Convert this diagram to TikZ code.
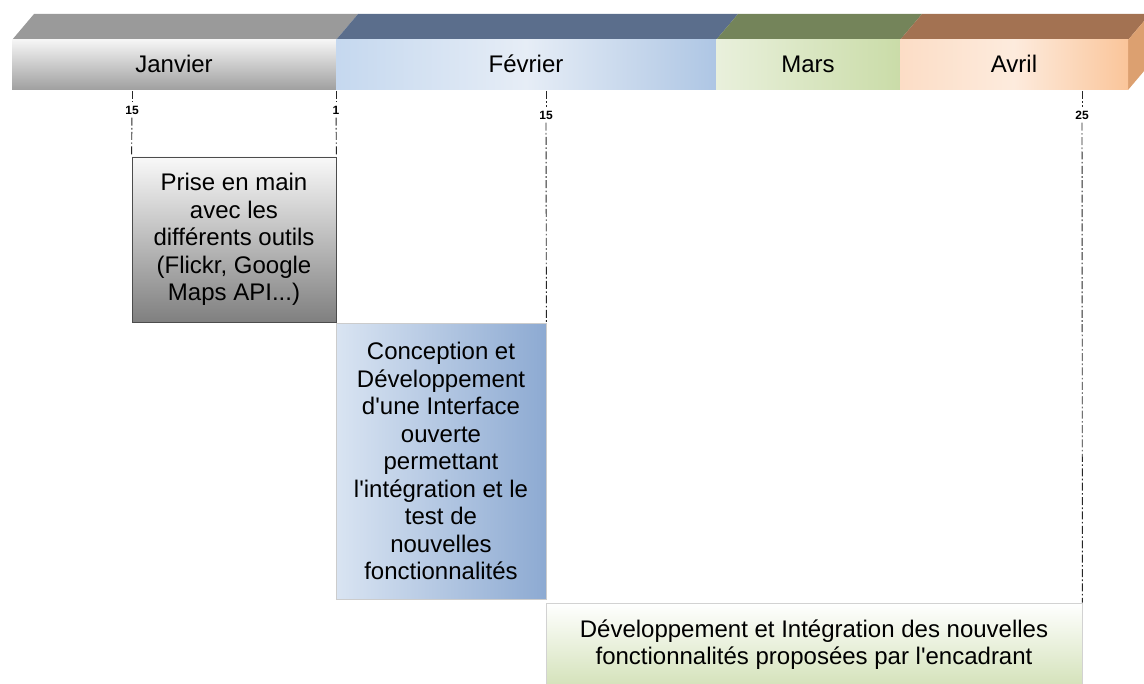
\documentclass[tikz,border=0pt]{standalone}
\usepackage{fontspec}
\setmainfont{Liberation Sans}
\usepackage{xcolor}
\usepackage{tikz}

\definecolor{janTop}{HTML}{9A9A9A}
\definecolor{fevTop}{HTML}{5B6E8C}
\definecolor{marTop}{HTML}{74845A}
\definecolor{avrTop}{HTML}{A37252}
\definecolor{avrSide}{HTML}{DCA070}
\definecolor{fevA}{HTML}{C5D8EF}
\definecolor{fevB}{HTML}{E6EDF6}
\definecolor{fevC}{HTML}{AEC6E4}
\definecolor{marA}{HTML}{E9F0DC}
\definecolor{marB}{HTML}{CADCA8}
\definecolor{avrA}{HTML}{FCDDC6}
\definecolor{avrB}{HTML}{FDEBDD}
\definecolor{avrC}{HTML}{FAC59A}
\definecolor{taskBlueA}{HTML}{D9E4F2}
\definecolor{taskBlue}{HTML}{8DAAD2}
\definecolor{taskGreen}{HTML}{D4E2BA}

\begin{document}
\begin{tikzpicture}[x=0.5pt, y=-0.5pt,
        month/.style={inner sep=0pt, font=\fontsize{12}{14}\selectfont},
        day/.style={inner sep=1.5pt, font=\fontsize{6}{7}\selectfont\bfseries},
        task/.style={line width=0.4pt, align=center, inner sep=0pt, font=\fontsize{12}{13.75}\selectfont},
        tick/.style={black!85, line width=0.45pt, dash pattern=on 4pt off 1.2pt on 0.8pt off 1.2pt}]
        \useasboundingbox (0, 0) rectangle (1144, 684);
        % top of the bar
        \fill [janTop] (12, 40) -- (34, 14) -- (358, 14) -- (336, 40) -- cycle;
        \fill [fevTop] (336, 40) -- (358, 14) -- (738, 14) -- (716, 40) -- cycle;
        \fill [marTop] (716, 40) -- (738, 14) -- (922, 14) -- (900, 40) -- cycle;
        \fill [avrTop] (900, 40) -- (922, 14) -- (1150, 14) -- (1128, 40) -- cycle;
        \fill [avrSide] (1128, 40) -- (1150, 14) -- (1150, 64) -- (1128, 90) -- cycle;
        % front of the bar
        \shade [top color = gray!8, bottom color = gray!75] (12, 40) rectangle (336, 90);
        \shade [left color = fevA, right color = fevC, middle color = fevB] (336, 40) rectangle (716, 90);
        \shade [left color = marA, right color = marB] (716, 40) rectangle (900, 90);
        \shade [left color = avrA, right color = avrC, middle color = avrB] (900, 40) rectangle (1128, 90);
        \node (jan) at (174, 64) [month] {Janvier};
        \node (fev) at (526, 64) [month] {Février};
        \node (mar) at (808, 64) [month] {Mars};
        \node (avr) at (1014, 64) [month] {Avril};
        % days
        \coordinate (c1) at (132, 91);
        \coordinate (c2) at (336, 91);
        \coordinate (c3) at (546, 91);
        \coordinate (c4) at (1082, 91);
        \node (d1) at (132, 110) [day] {15};
        \node (d2) at (336, 110) [day] {1};
        \node (d3) at (546, 115) [day] {15};
        \node (d4) at (1082, 115) [day] {25};
        % tasks
        \node (task1) at (234, 239.5) [task, draw = black!70, top color = gray!5, bottom color = gray!100, minimum width = 102pt, minimum height = 82.5pt] {Prise en main\\avec les\\différents outils\\(Flickr, Google\\Maps API...)};
        \node (task2) at (441, 461) [task, draw = gray!40, left color = taskBlueA, right color = taskBlue, minimum width = 105pt, minimum height = 138pt] {Conception et\\Développement\\d\textquotesingle une Interface\\ouverte\\permettant\\l\textquotesingle intégration et le\\test de\\nouvelles\\fonctionnalités};
        \node (task3) at (814, 644.5) [task, draw = gray!35, top color = white, bottom color = taskGreen, minimum width = 268pt, minimum height = 41.5pt] {Développement et Intégration des nouvelles\\fonctionnalités proposées par l\textquotesingle encadrant};
        \draw [tick] (c1) -- (d1);
        \draw [tick] (c2) -- (d2);
        \draw [tick] (c3) -- (d3);
        \draw [tick] (c4) -- (d4);
        \draw [tick] (d1) -- (task1.north west);
        \draw [tick] (d2) -- (task1.north east);
        \draw [tick] (d3) -- (task2.north east);
        \draw [tick] (d4) -- (task3.north east);
    \end{tikzpicture}
\end{document}
